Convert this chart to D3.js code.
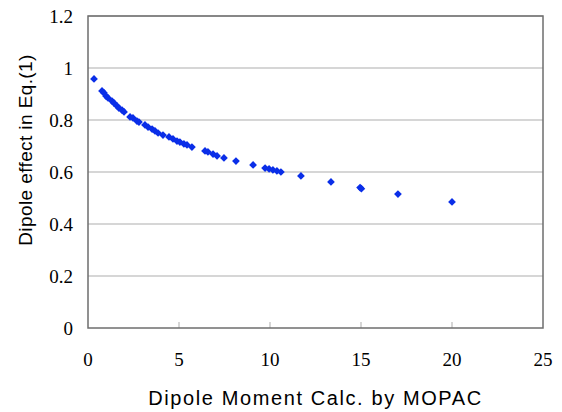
<!DOCTYPE html>
<html>
<head>
<meta charset="utf-8">
<script src="https://cdn.jsdelivr.net/npm/d3@7"></script>
<style>
  body { margin: 0; background: #fff; }
  .tick-label { font-family: "Liberation Serif", "Times New Roman", serif; font-size: 19px; fill: #000; }
  .axis-title { font-family: "Liberation Sans", Arial, sans-serif; fill: #000; }
</style>
</head>
<body>
<div id="chart"></div>
<script>
// Chart size
var svgWidth = 562;
var svgHeight = 412;

// Plot area (inside the frame)
var plot = { left: 88, top: 16, right: 543, bottom: 328 };

// Data
var dipoleMoment = [0.33, 0.77, 0.88, 0.99, 1.10, 1.32, 1.43, 1.59, 1.70, 1.87, 1.98,
    2.31, 2.47, 2.69, 2.80, 3.13, 3.30, 3.52, 3.68, 3.85, 4.12, 4.45, 4.67, 4.89,
    5.05, 5.27, 5.44, 5.71, 6.43, 6.59, 6.87, 7.09, 7.47, 8.13, 9.07, 9.73, 9.95,
    10.16, 10.38, 10.60, 11.70, 13.35, 14.95, 15.02, 17.03, 20.0];
var dipoleEffect = [0.958, 0.912, 0.904, 0.892, 0.885, 0.873, 0.865, 0.854, 0.846, 0.838, 0.831,
    0.812, 0.808, 0.796, 0.792, 0.781, 0.773, 0.765, 0.758, 0.750, 0.742, 0.735, 0.727, 0.719,
    0.715, 0.708, 0.704, 0.696, 0.681, 0.677, 0.669, 0.662, 0.654, 0.642, 0.627, 0.615, 0.612,
    0.608, 0.604, 0.600, 0.585, 0.562, 0.540, 0.536, 0.515, 0.485];
var xTicks = [0, 5, 10, 15, 20, 25];
var yTicks = [0, 0.2, 0.4, 0.6, 0.8, 1, 1.2];

var points = dipoleMoment.map((x, i) => ({ x: x, y: dipoleEffect[i] }));

var svg = d3.select("#chart")
    .append("svg")
    .attr("width", svgWidth)
    .attr("height", svgHeight);

var xScale = d3.scaleLinear().domain([0, 25]).range([plot.left, plot.right]);
var yScale = d3.scaleLinear().domain([0, 1.2]).range([plot.bottom, plot.top]);

// Gridlines
svg.append("g")
    .selectAll("line")
    .data(yTicks.filter(d => d > 0))
    .enter()
    .append("line")
    .attr("x1", plot.left)
    .attr("x2", plot.right)
    .attr("y1", d => yScale(d))
    .attr("y2", d => yScale(d))
    .attr("stroke", "#c8c8c8")
    .attr("stroke-width", 1.5);

// Inner tick marks on x axis
svg.append("g")
    .selectAll("line")
    .data(xTicks.slice(1, -1))
    .enter()
    .append("line")
    .attr("x1", d => xScale(d))
    .attr("x2", d => xScale(d))
    .attr("y1", plot.bottom)
    .attr("y2", plot.bottom - 6)
    .attr("stroke", "#c8c8c8")
    .attr("stroke-width", 1.5);

// Frame
svg.append("rect")
    .attr("x", plot.left)
    .attr("y", plot.top)
    .attr("width", plot.right - plot.left)
    .attr("height", plot.bottom - plot.top)
    .attr("fill", "none")
    .attr("stroke", "#6e6e6e")
    .attr("stroke-width", 1.5);

// Tick labels
svg.append("g")
    .selectAll("text")
    .data(xTicks)
    .enter()
    .append("text")
    .attr("class", "tick-label")
    .attr("x", d => xScale(d))
    .attr("y", 366)
    .attr("text-anchor", "middle")
    .text(d => d);

svg.append("g")
    .selectAll("text")
    .data(yTicks)
    .enter()
    .append("text")
    .attr("class", "tick-label")
    .attr("x", 73)
    .attr("y", d => yScale(d) + 6.5)
    .attr("text-anchor", "end")
    .text(d => d);

// Points (square diamonds)
svg.append("g")
    .selectAll("path")
    .data(points)
    .enter()
    .append("path")
    .attr("d", d3.symbol().type(d3.symbolSquare).size(30))
    .attr("transform", d => `translate(${xScale(d.x)}, ${yScale(d.y)}) rotate(45)`)
    .attr("fill", "#0a2ee8");

// Axis titles
svg.append("text")
    .attr("class", "axis-title")
    .attr("x", (plot.left + plot.right) / 2)
    .attr("y", 405)
    .attr("text-anchor", "middle")
    .style("font-size", "20px")
    .style("letter-spacing", "1.6px")
    .text("Dipole Moment Calc. by MOPAC");

svg.append("text")
    .attr("class", "axis-title")
    .attr("transform", "translate(32, 150) rotate(-90)")
    .attr("text-anchor", "middle")
    .style("font-size", "19px")
    .style("letter-spacing", "0.4px")
    .text("Dipole effect in Eq.(1)");
</script>
</body>
</html>
